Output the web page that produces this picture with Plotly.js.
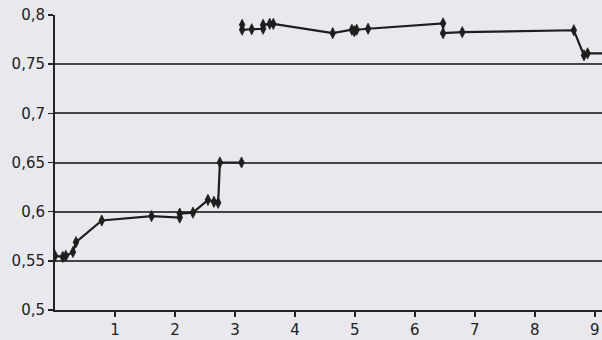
<!DOCTYPE html>
<html>
<head>
<meta charset="utf-8">
<script src="https://cdn.plot.ly/plotly-3.0.1.min.js"></script>
<style>
html,body{margin:0;padding:0;background:#e8e8ee;}
#chart{width:602px;height:340px;}
</style>
</head>
<body>
<div id="chart"></div>
<script>
// Segment 1 (lower run)
const xLow = [0, 0.13, 0.18, 0.30, 0.35, 0.78, 1.61, 2.08, 2.08, 2.30, 2.55, 2.65, 2.72, 2.75, 3.11];
const yLow = [0.555, 0.554, 0.555, 0.559, 0.569, 0.591, 0.5955, 0.594, 0.598, 0.599, 0.612, 0.610, 0.609, 0.650, 0.650];
// Segment 2 (upper run)
const xHigh = [3.12, 3.12, 3.28, 3.47, 3.47, 3.58, 3.64, 4.63, 4.95, 4.99, 5.03, 5.22, 6.47, 6.47, 6.79, 8.65, 8.82, 8.88, 9.2];
const yHigh = [0.790, 0.785, 0.7855, 0.786, 0.790, 0.791, 0.791, 0.7815, 0.785, 0.7835, 0.785, 0.786, 0.7915, 0.7815, 0.7825, 0.7845, 0.759, 0.761, 0.761];
// Axis ticks
const xTicks = [1, 2, 3, 4, 5, 6, 7, 8, 9];
const yTicks = [0.5, 0.55, 0.6, 0.65, 0.7, 0.75, 0.8];

const lineStyle = {color: '#1e1e1e', width: 2.2};
const markerStyle = {symbol: 'diamond-tall', size: 8, color: '#1e1e1e', line: {color: '#1e1e1e', width: 0.8}};

const traces = [
  {x: xLow, y: yLow, type: 'scatter', mode: 'lines+markers', line: lineStyle, marker: markerStyle},
  {x: xHigh, y: yHigh, type: 'scatter', mode: 'lines+markers', line: lineStyle, marker: markerStyle}
];

const tickFont = {family: 'DejaVu Sans, sans-serif', size: 15, color: '#222'};

const layout = {
  width: 602, height: 340,
  margin: {l: 55, r: 0, t: 15, b: 30, pad: 0},
  paper_bgcolor: '#e8e8ee',
  plot_bgcolor: '#e8e8ee',
  separators: ',.',
  showlegend: false,
  font: tickFont,
  xaxis: {
    range: [0, 9.12],
    tickvals: xTicks,
    ticktext: xTicks.map(String),
    ticks: 'outside', ticklen: 5, tickwidth: 1.5, tickcolor: '#222',
    showgrid: false, zeroline: false,
    showline: true, linecolor: '#222', linewidth: 2,
    tickfont: tickFont
  },
  yaxis: {
    range: [0.5, 0.8],
    tickvals: yTicks,
    ticks: 'outside', ticklen: 5, tickwidth: 1.5, tickcolor: '#222',
    showgrid: true, gridcolor: '#444', gridwidth: 2,
    zeroline: false,
    showline: true, linecolor: '#222', linewidth: 2,
    tickfont: tickFont
  }
};

Plotly.newPlot('chart', traces, layout, {displayModeBar: false, staticPlot: true});
</script>
</body>
</html>
